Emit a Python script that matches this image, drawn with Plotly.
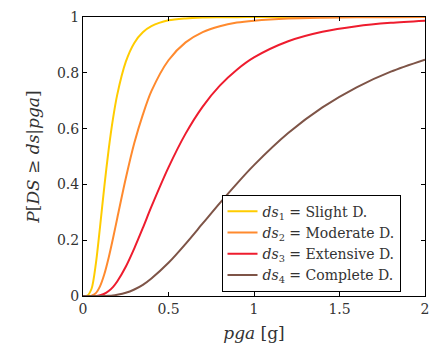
import plotly.graph_objects as go

# pga grid [g]
pga = [0, 0.025, 0.05, 0.075, 0.1, 0.125, 0.15, 0.175, 0.2, 0.25, 0.3, 0.35, 0.4,
       0.5, 0.6, 0.7, 0.8, 0.9, 1.0, 1.2, 1.4, 1.6, 1.8, 2.0]

# Exceedance probabilities
p_slight = [0, 0.001, 0.026, 0.115, 0.25, 0.394, 0.525, 0.634, 0.721, 0.839, 0.907, 0.945, 0.967,
            0.988, 0.995, 0.998, 0.999, 0.9995, 1.0, 1.0, 1.0, 1.0, 1.0, 1.0]
p_moderate = [0, 0, 0.0013, 0.0104, 0.0355, 0.0786, 0.137, 0.205, 0.278, 0.421, 0.548, 0.65, 0.734,
              0.845, 0.909, 0.946, 0.967, 0.980, 0.987, 0.9947, 0.9976, 0.9989, 0.9995, 0.9998]
p_extensive = [0, 0, 0, 0.0002, 0.0027, 0.008, 0.018, 0.032, 0.052, 0.105, 0.171, 0.244, 0.320,
               0.461, 0.582, 0.679, 0.754, 0.811, 0.855, 0.913, 0.947, 0.967, 0.979, 0.9866]
p_complete = [0, 0, 0, 0, 0, 0.0002, 0.0006, 0.0018, 0.0043, 0.0114, 0.0234, 0.040, 0.0628,
              0.119, 0.187, 0.260, 0.333, 0.403, 0.469, 0.584, 0.676, 0.748, 0.804, 0.847]

names = ["<i>ds</i><sub>1</sub> = Slight D.", "<i>ds</i><sub>2</sub> = Moderate D.",
         "<i>ds</i><sub>3</sub> = Extensive D.", "<i>ds</i><sub>4</sub> = Complete D."]
series = [p_slight, p_moderate, p_extensive, p_complete]
colors = ["#FFCC00", "#FF8A2E", "#EE1C2E", "#7E5447"]

fig = go.Figure()
for name, ys, c in zip(names, series, colors):
    fig.add_trace(go.Scatter(x=pga, y=ys, mode="lines", name=name,
                             line=dict(color=c, width=2, shape="spline", smoothing=0.8)))

font_family = "DejaVu Serif"
axis_common = dict(showline=True, linecolor="black", linewidth=1, mirror="ticks",
                   ticks="inside", ticklen=4, tickcolor="black", showgrid=False,
                   zeroline=False, tickfont=dict(size=14, color="#333", family=font_family))

fig.update_layout(
    width=438, height=353,
    margin=dict(l=83, r=9, t=15, b=57),
    paper_bgcolor="white", plot_bgcolor="white",
    font=dict(family=font_family, color="#333"),
    xaxis=dict(range=[0, 2], tickvals=[0, 0.5, 1, 1.5, 2], ticktext=["0", "0.5", "1", "1.5", "2"],
               title=dict(text="<i>pga</i> [g]", font=dict(size=17), standoff=11), **axis_common),
    yaxis=dict(range=[0, 1], tickvals=[0, 0.2, 0.4, 0.6, 0.8, 1], ticktext=["0", "0.2", "0.4", "0.6", "0.8", "1"],
               title=dict(text="<i>P</i>[<i>DS</i> ≥ <i>ds</i>|<i>pga</i>]", font=dict(size=17), standoff=12),
               **axis_common),
    legend=dict(x=0.405, y=0.363, xanchor="left", yanchor="top", bgcolor="white",
                bordercolor="black", borderwidth=1, font=dict(size=14, family=font_family),
                tracegroupgap=0, itemwidth=30),
    showlegend=True,
)

fig.write_html("out.html")
